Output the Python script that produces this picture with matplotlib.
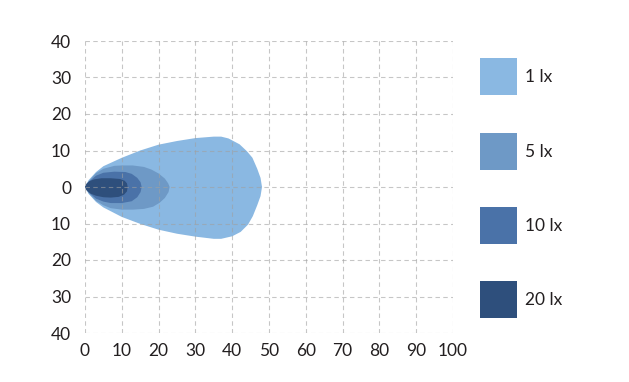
import matplotlib
matplotlib.use("Agg")
import matplotlib.pyplot as plt
from matplotlib.patches import Polygon, Rectangle

plt.rcParams['font.family'] = ['Lato', 'DejaVu Sans']

# ---- data: isolux contours (x in m, y in m) ----
lx1_x = [0, 1, 3, 5, 10, 15, 20, 25, 30, 35, 37, 39, 42, 44, 45.5, 46.8, 47.7, 48.1,
         47.7, 46.8, 45.6, 44.3, 42.3, 40, 37, 35, 30, 25, 20, 15, 10, 5, 3, 1]
lx1_y = [0, 1.9, 4.1, 5.7, 8.0, 10.0, 11.6, 12.6, 13.4, 13.8, 13.8, 13.3, 11.7, 9.8, 8.0, 5.0, 2.5, 0,
         -2.5, -5.0, -8.0, -10.3, -12.3, -13.5, -14.2, -14.2, -13.6, -12.8, -11.7, -10.1, -8.2, -5.6, -4.1, -1.9]

lx5_x = [0, 1, 3, 5, 8, 10, 13, 16, 18, 20, 21.7, 22.6, 23.0, 22.7, 21.7, 20.3, 18.5, 16, 13, 10, 7, 5, 3, 1]
lx5_y = [0, 1.6, 3.8, 5.0, 5.8, 5.9, 5.9, 5.5, 4.8, 3.7, 2.3, 1.0, 0, -1.4, -3.0, -4.3, -5.4, -6.0, -6.2, -6.2, -5.8, -5.0, -3.8, -1.7]

lx10_x = [0, 1, 3, 5, 8, 11, 12.7, 14.2, 15.1, 15.4, 15.1, 14.2, 12.7, 10, 7, 5, 3, 1]
lx10_y = [0, 1.4, 3.1, 3.9, 4.2, 4.1, 3.6, 2.5, 1.3, 0, -1.4, -2.8, -3.9, -4.4, -4.4, -4.0, -3.2, -1.5]

lx20_x = [0, 0.4, 1.2, 2.5, 4.5, 7, 9.5, 10.8, 11.4, 11.6, 11.4, 10.6, 9.2, 7, 5, 3, 1.5, 0.4]
lx20_y = [0, 0.9, 1.6, 2.1, 2.4, 2.4, 2.2, 1.7, 1.0, 0, -1.2, -2.1, -2.7, -2.9, -2.8, -2.4, -1.8, -0.9]

labels = ["1 lx", "5 lx", "10 lx", "20 lx"]
colors = ["#8ab8e2", "#6e99c6", "#4a72a8", "#2e4f7c"]

x_ticks = [0, 10, 20, 30, 40, 50, 60, 70, 80, 90, 100]
y_ticks = [-40, -30, -20, -10, 0, 10, 20, 30, 40]
y_ticklabels = ["40", "30", "20", "10", "0", "10", "20", "30", "40"]

W, H = 629, 382
fig = plt.figure(figsize=(W / 100, H / 100), dpi=100)
ax = fig.add_axes([85 / W, (H - 333) / H, (453 - 85) / W, (333 - 41) / H])

shapes = [(lx1_x, lx1_y), (lx5_x, lx5_y), (lx10_x, lx10_y), (lx20_x, lx20_y)]
for (xs, ys), c in zip(shapes, colors):
    ax.add_patch(Polygon(list(zip(xs, ys)), closed=True, facecolor=c,
                         edgecolor='none', zorder=1))

ax.set_xlim(0, 100)
ax.set_ylim(-40, 40)
ax.set_xticks(x_ticks)
ax.set_yticks(y_ticks)
ax.set_yticklabels(y_ticklabels)
ax.grid(True, color='#a0a0a0', linestyle=(0, (4, 3)), linewidth=0.8, alpha=0.6, zorder=2)
ax.set_axisbelow(False)
for s in ax.spines.values():
    s.set_visible(False)
ax.tick_params(length=0, labelsize=12.5, colors='#231f20')
ax.tick_params(axis='x', pad=7.5)
ax.tick_params(axis='y', pad=10)

# legend: squares and labels
lax = fig.add_axes([0, 0, 1, 1])
lax.set_xlim(0, W)
lax.set_ylim(H, 0)
lax.axis('off')
tops = [58, 133, 207, 281]
for t, c, lab in zip(tops, colors, labels):
    lax.add_patch(Rectangle((480, t), 37, 37, facecolor=c, edgecolor='none'))
    lax.text(525, t + 19, lab, fontsize=12.5, color='#231f20', va='center', ha='left')

fig.savefig("out.png", dpi=100)
